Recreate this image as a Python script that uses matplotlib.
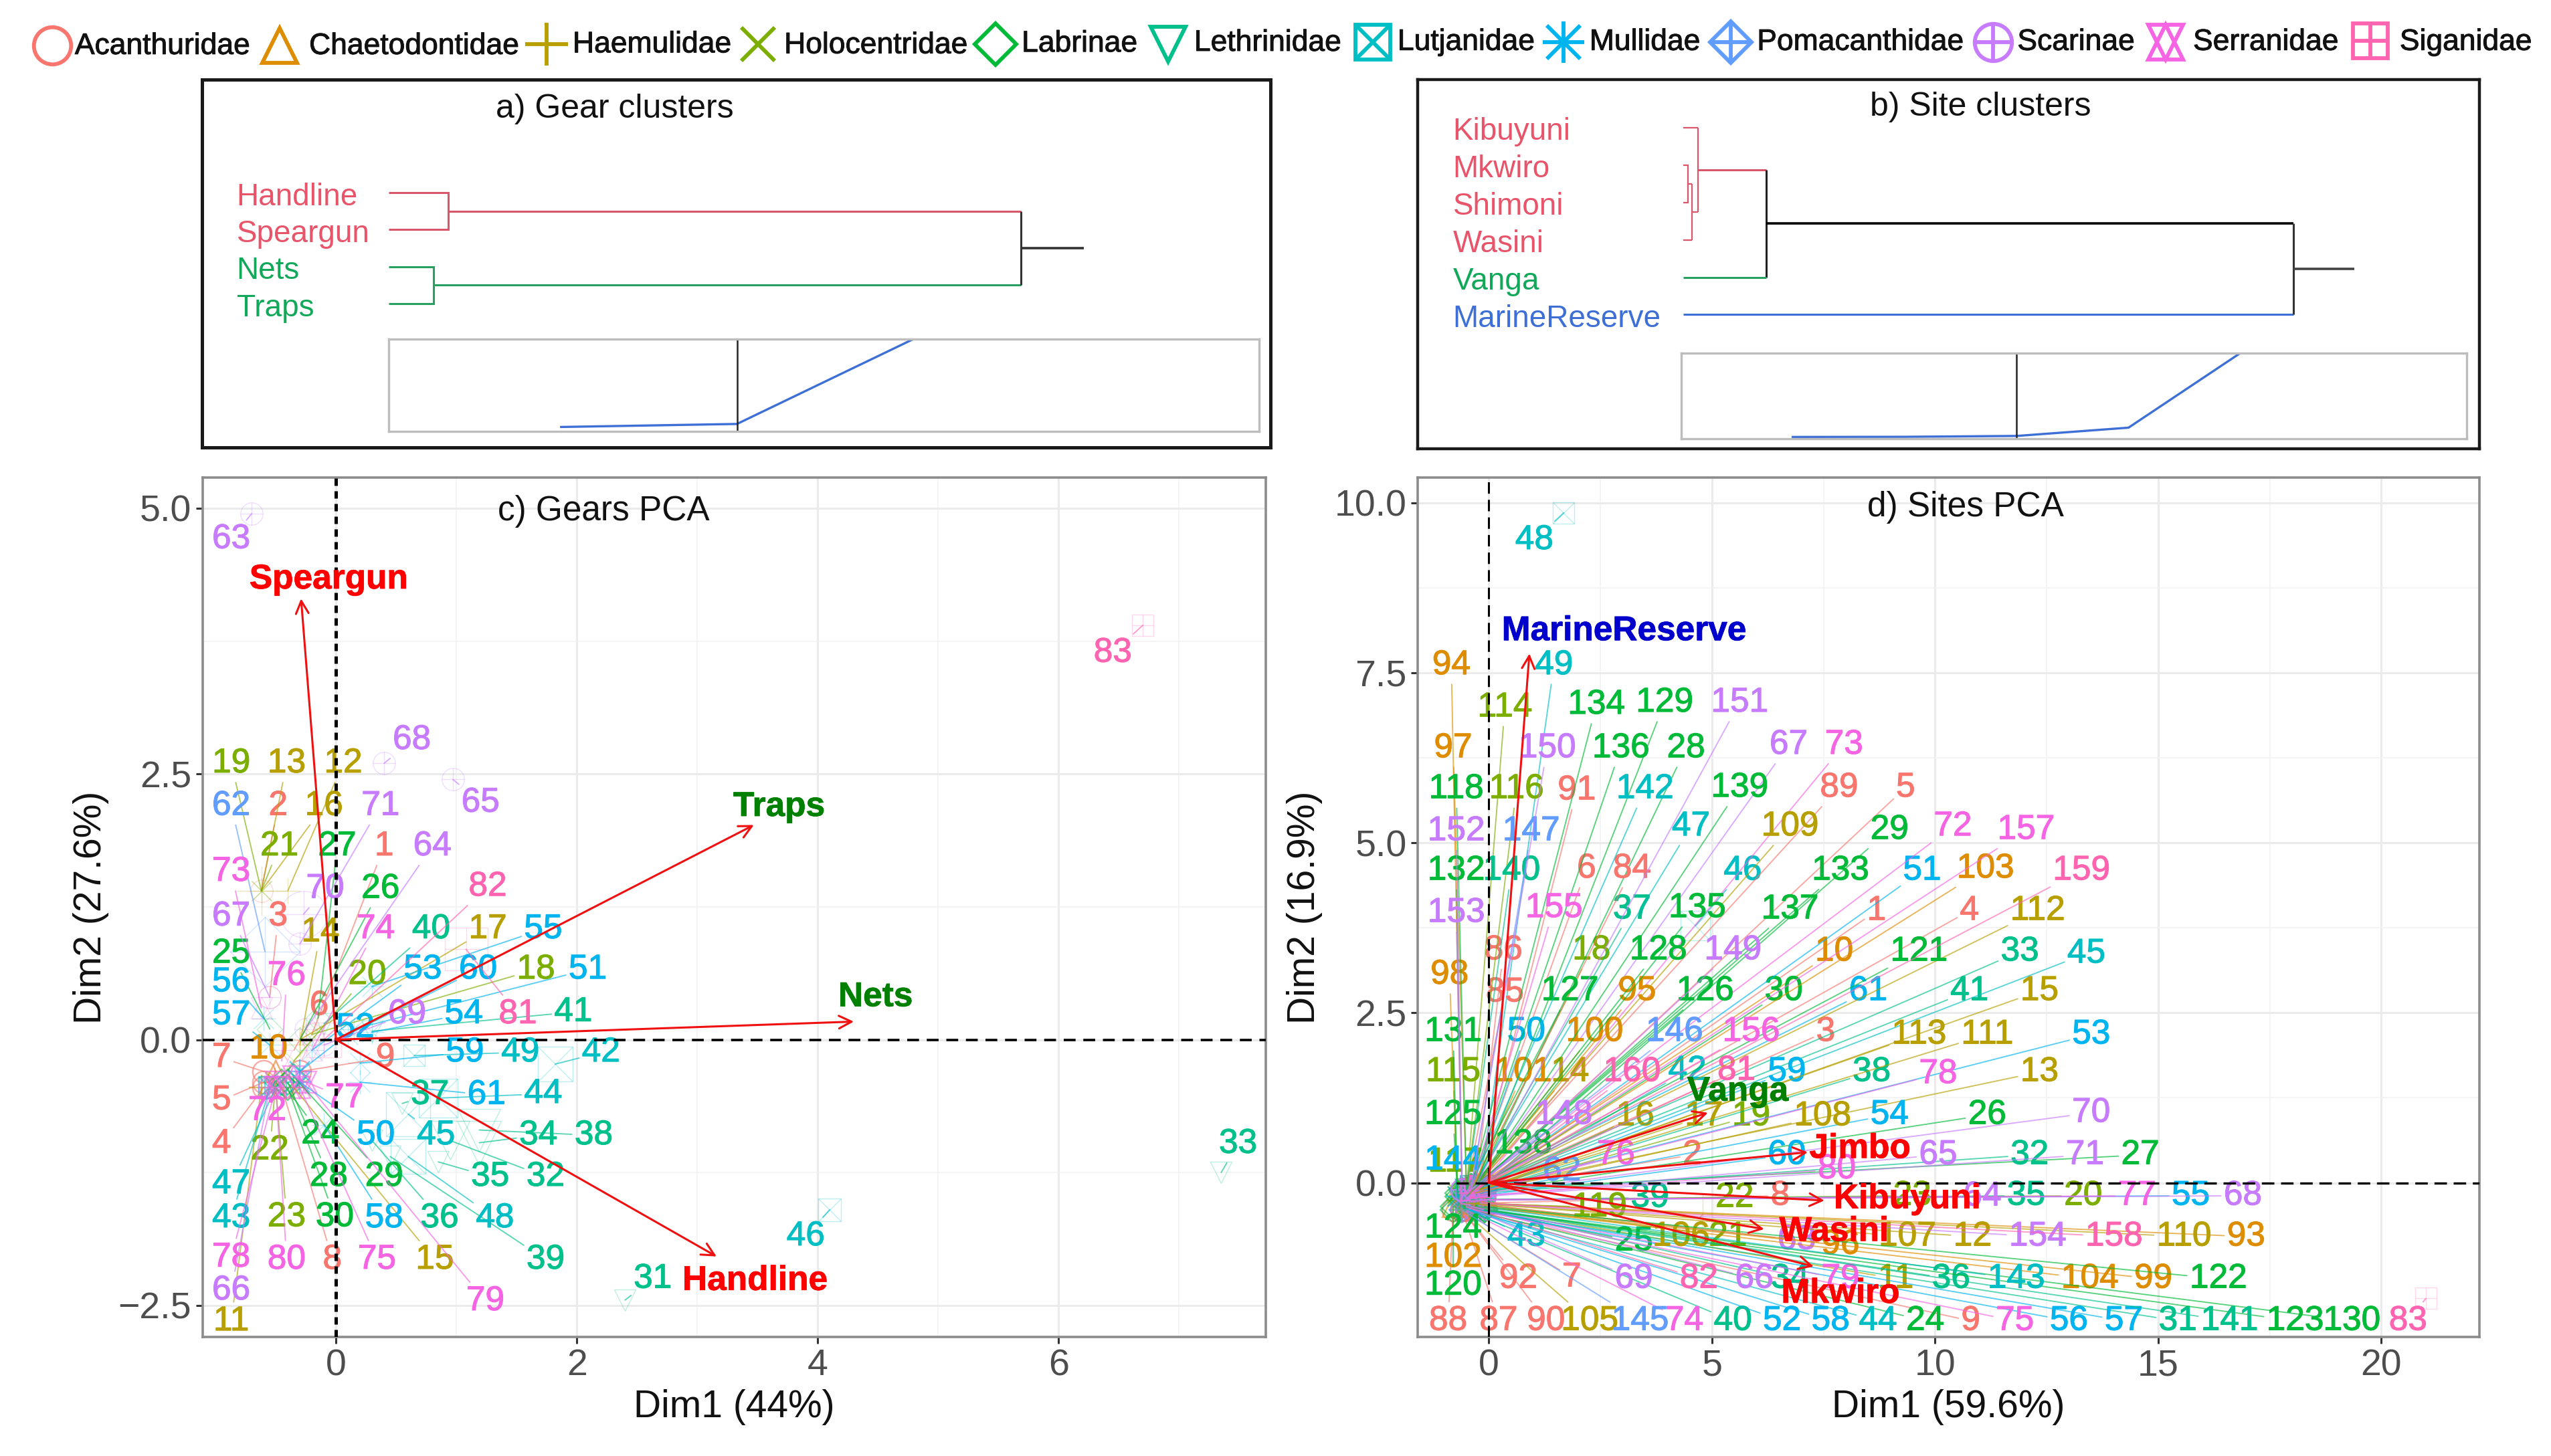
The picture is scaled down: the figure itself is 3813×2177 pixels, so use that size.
import numpy as np
import matplotlib
matplotlib.use("Agg")
import matplotlib.pyplot as plt
from matplotlib.patheffects import withStroke

plt.rcParams['font.family'] = ['Liberation Sans', 'DejaVu Sans']

# ---------- data ----------
families = ['Acanthuridae', 'Chaetodontidae', 'Haemulidae', 'Holocentridae', 'Labrinae', 'Lethrinidae',
            'Lutjanidae', 'Mullidae', 'Pomacanthidae', 'Scarinae', 'Serranidae', 'Siganidae']
family_colors = ['#F8766D', '#DE8C00', '#B79F00', '#7CAE00', '#00BA38', '#00C08B',
                 '#00BFC4', '#00B4F0', '#619CFF', '#C77CFF', '#F564E3', '#FF64B0']
# last id of each run of ids and the family of that run
run_last_id = [9, 10, 17, 23, 30, 41, 49, 61, 62, 71, 80, 83, 92, 104, 113, 117, 118, 119, 139, 141, 143, 144, 147, 154, 157, 160]
run_family = [0, 1, 2, 3, 4, 5, 6, 7, 8, 9, 10, 11, 0, 1, 2, 3, 4, 3, 4, 5, 6, 7, 8, 9, 10, 11]

# Gears PCA: label positions for ids 1..83
gear_label_x = [0.40, -0.48, -0.48, -0.95, -0.95, -0.14, -0.95, -0.03, 0.41, -0.56,
                -0.87, 0.06, -0.41, -0.13, 0.82, -0.10, 1.26, 1.66, -0.87, 0.26,
                -0.47, -0.55, -0.41, -0.13, -0.87, 0.37, 0.01, -0.06, 0.40, -0.01,
                2.63, 1.74, 7.49, 1.68, 1.28, 0.86, 0.78, 2.14, 1.74, 0.79,
                1.97, 2.20, -0.87, 1.72, 0.83, 3.90, -0.87, 1.32, 1.53, 0.33,
                2.09, 0.16, 0.72, 1.06, 1.72, -0.87, -0.87, 0.40, 1.07, 1.18,
                1.25, -0.87, -0.87, 0.80, 1.20, -0.87, -0.87, 0.63, 0.59, -0.09,
                0.37, -0.57, -0.87, 0.33, 0.34, -0.41, 0.07, -0.87, 1.24, -0.41,
                1.51, 1.26, 6.45]
gear_label_y = [1.82, 2.20, 1.16, -0.98, -0.57, 0.32, -0.17, -2.07, -0.17, -0.09,
                -2.65, 2.60, 2.60, 1.01, -2.07, 2.20, 1.04, 0.66, 2.60, 0.61,
                1.82, -1.04, -1.67, -0.89, 0.81, 1.42, 1.82, -1.29, -1.29, -1.67,
                -2.25, -1.29, -0.98, -0.90, -1.29, -1.68, -0.52, -0.90, -2.07, 1.04,
                0.26, -0.12, -1.68, -0.51, -0.90, -1.85, -1.36, -1.68, -0.12, -0.90,
                0.66, 0.11, 0.66, 0.24, 1.04, 0.54, 0.23, -1.68, -0.12, 0.66,
                -0.52, 2.20, 4.71, 1.82, 2.23, -2.36, 1.16, 2.82, 0.24, 1.42,
                2.20, -0.67, 1.58, 1.04, -2.07, 0.60, -0.55, -2.05, -2.46, -2.07,
                0.24, 1.44, 3.64]
# Gears PCA: individual positions for ids 1..83
gear_point_x = [-0.20, -0.62, -0.55, -0.60, -0.60, -0.35, -0.60, -0.45, -0.30, -0.50,
                -0.62, -0.40, -0.62, -0.30, -0.35, -0.62, -0.30, -0.20, -0.62, -0.35,
                -0.62, -0.50, -0.50, -0.45, -0.55, -0.30, -0.15, -0.40, -0.35, -0.40,
                2.40, 0.95, 7.35, 1.19, 0.85, 0.30, 0.55, 1.19, 0.45, -0.10,
                0.30, 1.82, -0.55, 0.85, 0.60, 4.10, -0.50, 0.60, 0.65, -0.30,
                0.15, -0.30, -0.20, 0.30, 0.30, -0.60, -0.55, -0.10, 0.20, 0.10,
                0.20, -0.59, -0.70, -0.25, 0.97, -0.55, -0.55, 0.40, -0.10, -0.27,
                -0.30, -0.50, -0.62, -0.20, -0.30, -0.45, -0.35, -0.50, -0.25, -0.50,
                1.08, -0.10, 6.70]
gear_point_y = [0.05, 1.40, 0.40, -0.45, -0.40, -0.10, -0.30, -0.45, -0.30, -0.30,
                -0.45, 1.40, 1.40, -0.05, -0.45, 1.40, 0.00, 0.05, 1.40, -0.20,
                1.40, -0.40, -0.45, -0.40, 0.10, 0.00, 0.20, -0.40, -0.35, -0.45,
                -2.45, -0.95, -1.25, -0.97, -1.15, -0.95, -0.60, -0.85, -1.10, 0.15,
                0.08, -0.23, -0.45, -0.55, -0.70, -1.60, -0.45, -1.10, -0.15, -0.40,
                0.10, -0.30, -0.10, 0.07, 0.50, 0.20, -0.05, -0.80, -0.22, 0.05,
                -0.40, 0.83, 4.95, 0.10, 2.45, -0.45, 0.40, 2.60, -0.05, 1.18,
                0.90, -0.40, 0.30, -0.10, -0.45, -0.20, -0.35, -0.45, -0.40, -0.45,
                0.85, 0.00, 3.90]

# Sites PCA: label positions for ids 1..160
site_label_x = [8.69, 4.56, 7.55, 10.77, 9.34, 2.19, 1.86, 6.53, 10.80, 7.74,
                9.12, 10.84, 12.34, 1.82, 12.34, 3.28, 4.82, 2.30, 5.88, 13.32,
                5.36, 5.51, 9.49, 9.78, 3.25, 11.17, 14.60, 4.42, 8.98, 6.61,
                15.44, 12.12, 11.90, 6.75, 12.04, 10.36, 3.21, 8.58, 3.61, 5.47,
                10.77, 4.45, 0.84, 8.72, 13.39, 5.69, 4.53, 1.02, 1.46, 0.84,
                9.71, 6.57, 13.50, 8.98, 15.73, 13.00, 14.23, 7.66, 6.68, 6.68,
                8.50, 1.64, 6.90, 11.06, 10.07, 5.95, 6.72, 16.90, 3.25, 13.50,
                13.36, 10.40, 7.96, 4.38, 11.79, 2.85, 14.53, 10.07, 7.88, 7.80,
                5.55, 4.71, 20.60, 3.21, 0.36, 0.33, 0.22, -0.91, 7.85, 1.28,
                1.97, 0.66, 16.97, -0.84, 3.32, 7.88, -0.80, -0.88, 14.89, 2.37,
                0.77, -0.80, 11.13, 13.47, 2.26, 4.31, 9.38, 7.48, 6.75, 15.58,
                11.17, 12.30, 9.64, 0.36, -0.80, 0.62, -0.75, -0.73, 2.48, -0.80,
                9.64, 16.35, 18.07, -0.80, -0.80, 4.85, 1.82, 3.80, 3.94, 19.34,
                -0.80, -0.73, 7.88, 2.41, 4.67, 2.96, 6.75, 0.77, 5.62, 0.51,
                16.60, 3.50, 11.82, -0.80, 3.39, 4.16, 0.95, 1.68, 5.47, 1.31,
                5.62, -0.73, -0.73, 12.30, 1.46, 5.88, 12.04, 14.01, 13.28, 3.21]
site_label_y = [4.00, 0.41, 2.22, 4.00, 5.81, 4.62, -1.39, -0.19, -2.03, 3.40,
                -1.41, -0.79, 1.63, 1.63, 2.82, 0.98, 0.98, 3.42, 0.98, -0.19,
                -0.79, -0.22, -0.19, -2.03, -0.86, 1.00, 0.41, 6.39, 5.19, 2.82,
                -2.03, 0.41, 3.40, -1.41, -0.19, -1.41, 4.02, 1.63, -0.22, -2.03,
                2.82, 1.65, -0.79, -2.03, 3.37, 4.59, 5.24, 9.45, 7.61, 2.22,
                4.59, -2.03, 2.18, 1.00, -0.19, -2.03, -2.03, -2.03, 1.63, 0.41,
                2.82, 0.17, -0.84, -0.20, 0.41, -1.41, 6.44, -0.19, -1.41, 1.03,
                0.41, 5.24, 6.44, -2.03, -2.03, 0.41, -0.19, 1.60, -1.41, 0.20,
                1.65, -1.41, -2.03, 4.62, 2.80, 3.42, -2.03, -2.03, 5.81, -2.03,
                5.77, -1.41, -0.79, 7.61, 2.82, -0.91, 6.39, 3.06, -1.41, 2.22,
                1.63, -1.10, 4.62, -1.41, -2.03, -0.79, -0.79, 0.98, 5.24, -0.79,
                2.18, 4.00, 2.18, 6.99, 1.63, 5.79, 0.30, 5.79, -0.36, -1.51,
                3.40, -1.41, -2.03, -0.67, 1.00, 2.82, 2.82, 3.42, 7.06, -2.03,
                2.22, 4.59, 4.59, 7.03, 4.04, 6.39, 4.02, 0.57, 5.81, 4.59,
                -2.03, 5.79, -1.41, 0.33, -2.03, 2.22, 5.17, 1.00, 3.42, 6.39,
                7.06, 5.17, 3.97, -0.79, 4.04, 2.22, 5.19, -0.79, 4.59, 1.63]
# Sites PCA: individual positions for ids 1..160
site_point_x = [-0.2, -0.3, -0.2, -0.1, -0.3, -0.4, -0.6, -0.3, -0.5, -0.3,
                -0.4, -0.3, -0.2, -0.4, -0.2, -0.3, -0.2, -0.4, -0.3, -0.2,
                -0.4, -0.3, -0.3, -0.4, -0.5, -0.2, -0.1, -0.3, -0.2, -0.3,
                -0.3, -0.2, -0.2, -0.4, -0.2, -0.4, -0.4, -0.3, -0.4, -0.5,
                -0.2, -0.3, -0.6, -0.5, -0.1, 4.63, -0.4, 1.68, -0.2, -0.4,
                -0.2, -0.4, -0.1, -0.2, -0.1, -0.3, -0.2, -0.4, -0.2, -0.3,
                -0.3, -0.5, -0.4, -0.3, -0.2, -0.4, -0.3, -0.2, -0.5, -0.1,
                -0.1, -0.3, -0.2, -0.5, -0.3, -0.5, -0.1, -0.3, -0.4, -0.4,
                -0.3, -0.5, 21.0, -0.4, -0.5, -0.3, -0.6, -0.8, -0.3, -0.6,
                -0.3, -0.6, -0.1, -0.6, -0.4, -0.4, -0.5, -0.7, -0.2, -0.4,
                -0.4, -0.8, -0.2, -0.2, -0.6, 4.80, -0.3, -0.3, -0.3, -0.1,
                -0.2, -0.2, -0.2, -0.5, -0.7, -0.5, -0.7, -0.5, -0.5, -0.8,
                -0.3, -0.1, -0.1, -0.8, -0.7, -0.4, -0.5, -0.4, -0.3, -0.1,
                -0.7, -0.6, -0.3, -0.4, -0.3, -0.4, -0.3, -0.5, -0.3, -0.5,
                -0.1, -0.4, -0.2, -0.7, -0.6, -0.4, -0.4, -0.5, -0.3, -0.4,
                -0.3, -0.6, -0.6, -0.2, -0.4, -0.3, -0.2, -0.1, -0.2, -0.4]
site_point_y = [-0.05, -0.10, -0.05, 0.00, -0.10, -0.10, -0.40, -0.30, -0.40, -0.05,
                -0.35, -0.30, -0.10, -0.10, -0.10, -0.15, -0.10, -0.10, -0.15, -0.25,
                -0.30, -0.25, -0.25, -0.40, -0.35, -0.15, -0.10, -0.05, -0.10, -0.10,
                -0.40, -0.15, -0.05, -0.35, -0.25, -0.35, -0.10, -0.15, -0.25, -0.40,
                -0.05, -0.15, -0.35, -0.40, -0.05, 3.78, -0.10, 9.85, -0.05, -0.10,
                -0.05, -0.40, -0.10, -0.15, -0.25, -0.40, -0.40, -0.40, -0.15, -0.20,
                -0.05, -0.20, -0.30, -0.25, -0.20, -0.35, -0.05, -0.25, -0.35, -0.15,
                -0.20, -0.05, -0.05, -0.40, -0.40, -0.20, -0.25, -0.15, -0.35, -0.20,
                -0.15, -0.35, -1.70, -0.10, -0.10, -0.10, -0.40, -0.40, -0.05, -0.40,
                -0.10, -0.40, -0.30, -0.10, -0.10, -0.30, -0.10, -0.10, -0.35, -0.10,
                -0.15, -0.35, -0.05, -0.35, -0.40, -0.46, -0.30, -0.15, -0.05, -0.30,
                -0.10, -0.05, -0.10, -0.10, -0.15, -0.10, -0.20, -0.10, -0.30, -0.40,
                -0.05, -0.35, -0.40, -0.35, -0.20, -0.10, -0.10, -0.10, -0.05, -0.40,
                -0.15, -0.10, -0.05, -0.05, -0.05, -0.05, -0.05, -0.20, -0.05, -0.10,
                -0.40, -0.05, -0.35, -0.20, -0.40, -0.10, -0.10, -0.15, -0.10, -0.05,
                -0.05, -0.10, -0.10, -0.30, -0.10, -0.10, -0.05, -0.30, -0.05, -0.15]

# Variable arrows
gear_vars = ['Speargun', 'Traps', 'Nets', 'Handline']
gear_var_x = [-0.29, 3.47, 4.30, 3.16]
gear_var_y = [4.15, 2.02, 0.17, -2.04]
gear_var_label_x = [-0.06, 3.68, 4.48, 3.48]
gear_var_label_y = [4.33, 2.19, 0.40, -2.27]
gear_var_colors = ['#FF0000', '#008000', '#008000', '#FF0000']

site_vars = ['MarineReserve', 'Vanga', 'Jimbo', 'Kibuyuni', 'Wasini', 'Mkwiro']
site_var_x = [0.91, 4.91, 7.15, 7.52, 6.17, 7.28]
site_var_y = [7.78, 1.03, 0.45, -0.26, -0.68, -1.23]
site_var_label_x = [3.03, 5.58, 8.32, 9.38, 7.74, 7.88]
site_var_label_y = [8.11, 1.34, 0.50, -0.24, -0.72, -1.63]
site_var_colors = ['#0000CD', '#008000', '#FF0000', '#FF0000', '#FF0000', '#FF0000']

# Dendrograms
gear_leaves = ['Handline', 'Speargun', 'Nets', 'Traps']
gear_leaf_colors = ['#E8546A', '#E8546A', '#12A85A', '#12A85A']
gear_heights = [0.094, 0.071, 1.0, 1.099]
gear_scree = [0.045, 0.078, 1.0]

site_leaves = ['Kibuyuni', 'Mkwiro', 'Shimoni', 'Wasini', 'Vanga', 'MarineReserve']
site_leaf_colors = ['#E8546A', '#E8546A', '#E8546A', '#E8546A', '#12A85A', '#3D6FD6']
site_heights = [0.008, 0.0144, 0.024, 0.136, 1.0, 1.0997]
site_scree = [0.017, 0.019, 0.029, 0.126, 1.0]

gear_x_ticks = [0, 2, 4, 6]
gear_y_ticks = [-2.5, 0, 2.5, 5]
gear_y_ticklabels = ['\u22122.5', '0.0', '2.5', '5.0']
site_x_ticks = [0, 5, 10, 15, 20]
site_y_ticks = [0, 2.5, 5, 7.5, 10]
site_y_ticklabels = ['0.0', '2.5', '5.0', '7.5', '10.0']

# ---------- layout helpers (reference layout measured on a 1568x895 grid) ----------
W, H = 1568.0, 895.0
fig = plt.figure(figsize=(38.13, 21.77), dpi=100, facecolor='white')


def rect(l, t, r, b):
    return [l / W, 1 - b / H, (r - l) / W, (b - t) / H]


def family_of(i):
    return run_family[int(np.searchsorted(run_last_id, i))]


shape_parts = [
    [('o', 1.0)], [('^', 0.95)], [('+', 1.15)], [('x', 0.9)], [('D', 0.8)], [('v', 0.95)],
    [('s', 0.95), ('x', 0.95)], [('+', 1.1), ('x', 0.9)], [('D', 0.8), ('+', 1.15)],
    [('o', 1.0), ('+', 1.0)], [('^', 0.95), ('v', 0.95)], [('s', 0.95), ('+', 0.95)],
]


def draw_shape(ax, x, y, fam, size, lw, alpha=1.0, z=2):
    for m, k in shape_parts[fam]:
        ax.plot([x], [y], linestyle='none', marker=m, markersize=size * k, markerfacecolor='none',
                markeredgecolor=family_colors[fam], markeredgewidth=lw, alpha=alpha, zorder=z)


def heavier(artist, color, w):
    artist.set_path_effects([withStroke(linewidth=w, foreground=color)])


# ---------- legend ----------
lax = fig.add_axes([0, 0, 1, 1], zorder=10)
lax.set_xlim(0, W)
lax.set_ylim(H, 0)
lax.axis('off')
legend_marker_x = [32, 172, 336, 466, 612, 718, 844, 961, 1064, 1225, 1331, 1457]
legend_marker_y = [28, 28, 27, 27, 27, 27, 26, 26, 26, 26, 26, 25]
legend_text_x = [46, 190, 352, 482, 628, 734, 859, 977, 1080, 1240, 1348, 1475]
legend_text_y = [28.5, 28.5, 27.5, 28, 27, 26.5, 26, 26, 26, 26, 26, 26]
for k, name in enumerate(families):
    draw_shape(lax, legend_marker_x[k], legend_marker_y[k], k, 40, 4.2)
    t = lax.text(legend_text_x[k], legend_text_y[k], name, fontsize=32, color='#111111', ha='left', va='center')
    heavier(t, '#111111', 0.7)


# ---------- dendrogram panels ----------
def dendro_axes(r, xlim, ylim, title, tx, ty, frame_lw):
    ax = fig.add_axes(r)
    ax.set_xlim(*xlim)
    ax.set_ylim(*ylim)
    ax.set_xticks([])
    ax.set_yticks([])
    for s in ax.spines.values():
        s.set_linewidth(frame_lw)
        s.set_color('#1a1a1a')
    ax.text(tx, ty, title, transform=ax.transAxes, fontsize=36, ha='center', va='center', color='#111111')
    return ax


def scree(r, values, vline_at, xlim):
    ax = fig.add_axes(r, zorder=3)
    xs = np.arange(1, len(values) + 1)
    ax.plot(xs, values, color='#3D6FD6', lw=2.4, solid_joinstyle='miter')
    ax.axvline(vline_at, color='#222222', lw=1.8)
    ax.set_xlim(*xlim)
    ax.set_ylim(0, 1)
    ax.set_xticks([])
    ax.set_yticks([])
    for s in ax.spines.values():
        s.set_color('#BDBDBD')
        s.set_linewidth(2.4)
    return ax


def hv(ax, xs, ys, color, lw=2.2):
    ax.plot(xs, ys, color=color, lw=lw, solid_capstyle='butt', solid_joinstyle='miter')


red, green, blue = '#D9566B', '#27A060', '#3D6FD6'
# a) gears
a = dendro_axes(rect(124, 49, 781, 275), (-0.296, 1.395), (7.88, -2.05), 'a) Gear clusters', 0.3866, 0.92, 3.6)
h1, h2, h3, h4 = gear_heights
hv(a, [0, h1, h1, 0], [1, 1, 2, 2], red)
hv(a, [0, h2, h2, 0], [3, 3, 4, 4], green)
hv(a, [h1, h3], [1.5, 1.5], red)
hv(a, [h2, h3], [3.5, 3.5], green)
hv(a, [h3, h3], [1.5, 3.5], '#333333')
hv(a, [h3, h4], [2.5, 2.5], '#333333', 2.6)
for k, name in enumerate(gear_leaves):
    a.text(-0.241, k + 1 + 0.12, name, color=gear_leaf_colors[k], fontsize=33, ha='left', va='center')
scree(rect(239, 208.6, 774, 265), gear_scree, 2, (0.02, 4.97))

# b) sites
b = dendro_axes(rect(871.5, 49, 1524, 276), (-0.435, 1.305), (9.59, -0.278), 'b) Site clusters', 0.530, 0.926, 3.2)
s1, s2, s3, s4, s5, s6 = site_heights
y1 = 2.5
y2 = (y1 + 4) / 2
y3 = (y2 + 1) / 2
y4 = (y3 + 5) / 2
y5 = (y4 + 6) / 2
hv(b, [0, s1, s1, 0], [2, 2, 3, 3], red, 1.6)
hv(b, [s1, s2], [y1, y1], red, 1.6)
hv(b, [s2, s2], [y1, 4], red, 1.6)
hv(b, [0, s2], [4, 4], red, 1.6)
hv(b, [s2, s3], [y2, y2], red, 1.6)
hv(b, [s3, s3], [1, y2], red, 1.6)
hv(b, [0, s3], [1, 1], red, 1.6)
hv(b, [s3, s4], [y3, y3], red, 2.2)
hv(b, [s4, s4], [y3, 5], '#222222', 2.2)
hv(b, [0, s4], [5, 5], green)
hv(b, [s4, s5], [y4, y4], '#000000', 2.6)
hv(b, [0, s5], [6, 6], blue)
hv(b, [s5, s5], [y4, 6], '#333333')
hv(b, [s5, s6], [y5, y5], '#444444', 2.6)
for k, name in enumerate(site_leaves):
    b.text(-0.3776, k + 1 + 0.11, name, color=site_leaf_colors[k], fontsize=33, ha='left', va='center')
scree(rect(1033.5, 217, 1516, 269.5), site_scree, 3, (0.004, 7.02))


# ---------- PCA panels ----------
def pca_panel(r, xlim, ylim, xt, xminor, yt, ytl, yminor, xlabel, ylabel, title, tx, ty, ylx, hdash, vdash):
    ax = fig.add_axes(r)
    ax.set_xlim(*xlim)
    ax.set_ylim(*ylim)
    ax.set_xticks(xt)
    ax.set_xticklabels([str(v) for v in xt])
    ax.set_yticks(yt)
    ax.set_yticklabels(ytl)
    ax.set_xticks(xminor, minor=True)
    ax.set_yticks(yminor, minor=True)
    ax.tick_params(axis='both', which='major', length=7, width=2.2, color='#333333', labelcolor='#4D4D4D',
                   labelsize=40, pad=5)
    ax.tick_params(axis='both', which='minor', length=0)
    ax.grid(True, which='major', color='#EBEBEB', lw=2.2, zorder=0)
    ax.grid(True, which='minor', color='#F2F2F2', lw=1.2, zorder=0)
    ax.set_axisbelow(True)
    for s in ax.spines.values():
        s.set_color('#8C8C8C')
        s.set_linewidth(2.6)
    ax.set_xlabel(xlabel, fontsize=41, color='#111111')
    ax.set_ylabel(ylabel, fontsize=41, color='#111111')
    ax.xaxis.set_label_coords(0.5, -0.0814)
    ax.yaxis.set_label_coords(ylx, 0.5)
    ax.xaxis.label.set_va('center')
    ax.yaxis.label.set_va('center')
    ax.text(tx, ty, title, transform=ax.transAxes, fontsize=37, ha='center', va='center', color='#111111')
    ax.axhline(0, color='black', lw=hdash[0], dashes=hdash[1], zorder=4)
    ax.axvline(0, color='black', lw=vdash[0], dashes=vdash[1], zorder=4)
    return ax


def draw_individuals(ax, pxs, pys, lxs, lys, big, cluster, cluster_r):
    for i, (px, py, lx, ly) in enumerate(zip(pxs, pys, lxs, lys), start=1):
        fam = family_of(i)
        col = family_colors[fam]
        in_cluster = abs(px - cluster[0]) < cluster_r[0] and abs(py - cluster[1]) < cluster_r[1]
        draw_shape(ax, px, py, fam, big.get(i, 24), 1.7 if in_cluster else 1.0, alpha=0.6 if in_cluster else 0.25)
        ann = ax.annotate(str(i), xy=(px, py), xytext=(lx, ly), textcoords='data', color=col, fontsize=37,
                          ha='center', va='center', zorder=3, annotation_clip=False,
                          arrowprops=dict(arrowstyle='-', color=col, lw=1.35, alpha=0.65, shrinkA=1, shrinkB=0))
        ann.arrow_patch.set_zorder(2.5)
        heavier(ann, col, 0.8)


def draw_variables(ax, xs, ys, lxs, lys, names, cols):
    for x, y, lx, ly, n, c in zip(xs, ys, lxs, lys, names, cols):
        ax.annotate('', xy=(x, y), xytext=(0, 0), zorder=5,
                    arrowprops=dict(arrowstyle='->,head_length=0.4,head_width=0.2', color='#F01010', lw=2.2,
                                    shrinkA=0, shrinkB=0, mutation_scale=34))
        t = ax.text(lx, ly, n, color=c, fontsize=37, fontweight='bold', ha='center', va='center', zorder=6)
        heavier(t, c, 0.6)


c = pca_panel(rect(124.5, 293.5, 778, 822), (-1.108, 7.72), (-2.80, 5.29),
              gear_x_ticks, [1, 3, 5, 7], gear_y_ticks, gear_y_ticklabels, [-1.25, 1.25, 3.75],
              'Dim1 (44%)', 'Dim2 (27.6%)', 'c) Gears PCA', 0.377, 0.961, -0.105,
              (2.6, (4.9, 3.2)), (3.6, (2.2, 1.6)))
gear_big_markers = {62: 66, 13: 46, 70: 50, 81: 48, 82: 40, 34: 50, 38: 48, 32: 44, 48: 40, 44: 44, 45: 50, 42: 40, 46: 26}
draw_individuals(c, gear_point_x, gear_point_y, gear_label_x, gear_label_y, gear_big_markers, (-0.45, -0.38), (0.25, 0.15))
draw_variables(c, gear_var_x, gear_var_y, gear_var_label_x, gear_var_label_y, gear_vars, gear_var_colors)

d = pca_panel(rect(871.5, 293.5, 1524, 822), (-1.59, 22.2), (-2.27, 10.37),
              site_x_ticks, [2.5, 7.5, 12.5, 17.5], site_y_ticks, site_y_ticklabels, [1.25, 3.75, 6.25, 8.75],
              'Dim1 (59.6%)', 'Dim2 (16.9%)', 'd) Sites PCA', 0.5157, 0.965, -0.1065,
              (2.4, (5.6, 3.0)), (2.2, (5.6, 3.0)))
site_big_markers = {46: 34, 106: 40}
draw_individuals(d, site_point_x, site_point_y, site_label_x, site_label_y, site_big_markers, (-0.35, -0.2), (1.0, 0.4))
draw_variables(d, site_var_x, site_var_y, site_var_label_x, site_var_label_y, site_vars, site_var_colors)

fig.savefig('out.png', dpi=100, facecolor='white')
